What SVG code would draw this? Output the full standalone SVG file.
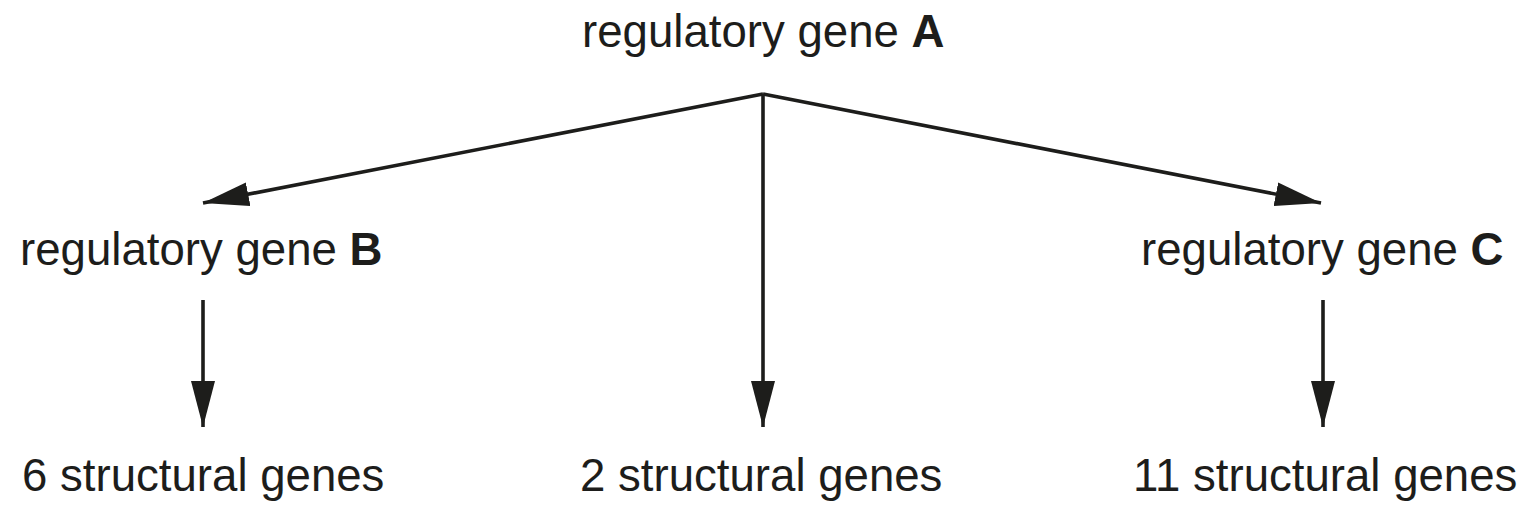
<svg xmlns="http://www.w3.org/2000/svg" width="1531" height="519" viewBox="0 0 1531 519">
<style>
.t{font-family:"Liberation Sans",Arial,sans-serif;font-size:45.6px;fill:#1d1d1b}
.b{font-weight:bold}
.c{stroke:#1d1d1b;stroke-width:3.6;fill:none}
</style>
<defs>
<marker id="ah" viewBox="0 0 46 24" refX="46" refY="12" markerWidth="46" markerHeight="24" markerUnits="userSpaceOnUse" orient="auto">
<path d="M0,0 L46,12 L0,24 Z" fill="#1d1d1b"/>
</marker>
</defs>
<rect width="1531" height="519" fill="#fff"/>
<g id="connectors">
<line class="c" x1="763" y1="94" x2="203" y2="203" marker-end="url(#ah)"/>
<line class="c" x1="763" y1="94" x2="1321" y2="203" marker-end="url(#ah)"/>
<line class="c" x1="763" y1="94" x2="763" y2="427" marker-end="url(#ah)"/>
<line class="c" x1="203" y1="300" x2="203" y2="427" marker-end="url(#ah)"/>
<line class="c" x1="1323" y1="300" x2="1323" y2="427" marker-end="url(#ah)"/>
</g>
<g id="geneA"><text class="t" x="582" y="47">regulatory gene <tspan class="b">A</tspan></text></g>
<g id="geneB"><text class="t" x="20" y="265">regulatory gene <tspan class="b">B</tspan></text></g>
<g id="geneC"><text class="t" x="1141" y="265">regulatory gene <tspan class="b">C</tspan></text></g>
<g id="s6"><text class="t" x="22" y="491">6 structural genes</text></g>
<g id="s2"><text class="t" x="580" y="491">2 structural genes</text></g>
<g id="s11"><text class="t" x="1133" y="491">11 structural genes</text></g>
</svg>
